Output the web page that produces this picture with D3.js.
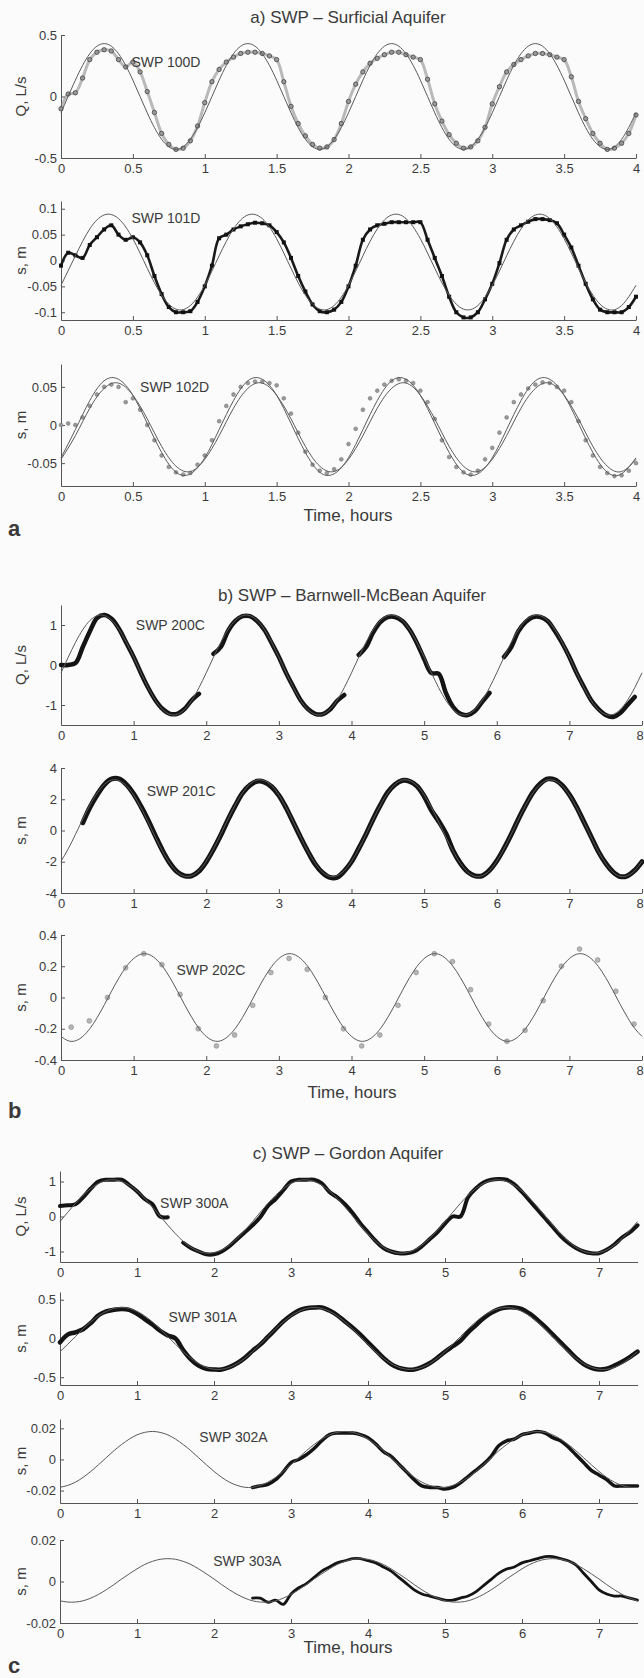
<!DOCTYPE html>
<html>
<head>
<meta charset="utf-8">
<script src="https://cdn.jsdelivr.net/npm/d3@7"></script>
<style>
  body { margin: 0; background: #fbfbfb; }
  svg { display: block; }
  text { font-family: "Liberation Sans", Arial, sans-serif; fill: #3a3a3a; }
</style>
</head>
<body>
<div id="chart"></div>
<script>
// values
// model curves: one value every 0.1 h starting at t = 0
var a1Model = [-0.133, 0.133, 0.348, 0.43, 0.348, 0.133, -0.133, -0.348, -0.43, -0.348,
  -0.133, 0.133, 0.348, 0.43, 0.348, 0.133, -0.133, -0.348, -0.43, -0.348,
  -0.133, 0.133, 0.348, 0.43, 0.348, 0.133, -0.133, -0.348, -0.43, -0.348,
  -0.133, 0.133, 0.348, 0.43, 0.348, 0.133, -0.133, -0.348, -0.43, -0.348, -0.133];
var a2Model = [-0.048, 0.009, 0.061, 0.088, 0.081, 0.042, -0.015, -0.067, -0.094, -0.087,
  -0.048, 0.009, 0.061, 0.088, 0.081, 0.042, -0.015, -0.067, -0.094, -0.087,
  -0.048, 0.009, 0.061, 0.088, 0.081, 0.042, -0.015, -0.067, -0.094, -0.087,
  -0.048, 0.009, 0.061, 0.088, 0.081, 0.042, -0.015, -0.067, -0.094, -0.087, -0.048];
var a3ModelA = [-0.043, -0.006, 0.032, 0.058, 0.060, 0.039, 0.002, -0.036, -0.062, -0.064,
  -0.043, -0.006, 0.032, 0.058, 0.060, 0.039, 0.002, -0.036, -0.062, -0.064,
  -0.043, -0.006, 0.032, 0.058, 0.060, 0.039, 0.002, -0.036, -0.062, -0.064,
  -0.043, -0.006, 0.032, 0.058, 0.060, 0.039, 0.002, -0.036, -0.062, -0.064, -0.043];
var a3ModelB = [-0.045, -0.014, 0.022, 0.048, 0.055, 0.039, 0.008, -0.028, -0.054, -0.061,
  -0.045, -0.014, 0.022, 0.048, 0.055, 0.039, 0.008, -0.028, -0.054, -0.061,
  -0.045, -0.014, 0.022, 0.048, 0.055, 0.039, 0.008, -0.028, -0.054, -0.061,
  -0.045, -0.014, 0.022, 0.048, 0.055, 0.039, 0.008, -0.028, -0.054, -0.061, -0.045];

var b1Model = [-0.196, 0.196, 0.567, 0.884, 1.114, 1.235, 1.235, 1.114, 0.884, 0.567,
  0.196, -0.196, -0.567, -0.884, -1.114, -1.235, -1.235, -1.114, -0.884, -0.567,
  -0.196, 0.196, 0.567, 0.884, 1.114, 1.235, 1.235, 1.114, 0.884, 0.567,
  0.196, -0.196, -0.567, -0.884, -1.114, -1.235, -1.235, -1.114, -0.884, -0.567,
  -0.196, 0.196, 0.567, 0.884, 1.114, 1.235, 1.235, 1.114, 0.884, 0.567,
  0.196, -0.196, -0.567, -0.884, -1.114, -1.235, -1.235, -1.114, -0.884, -0.567,
  -0.196, 0.196, 0.567, 0.884, 1.114, 1.235, 1.235, 1.114, 0.884, 0.567,
  0.196, -0.196, -0.567, -0.884, -1.114, -1.235, -1.235, -1.114, -0.884, -0.567, -0.196];
var b2Model = [-1.97, -1.17, -0.24, 0.73, 1.64, 2.41, 2.96, 3.23, 3.19, 2.87,
  2.27, 1.47, 0.54, -0.43, -1.34, -2.11, -2.66, -2.93, -2.89, -2.57,
  -1.97, -1.17, -0.24, 0.73, 1.64, 2.41, 2.96, 3.23, 3.19, 2.87,
  2.27, 1.47, 0.54, -0.43, -1.34, -2.11, -2.66, -2.93, -2.89, -2.57,
  -1.97, -1.17, -0.24, 0.73, 1.64, 2.41, 2.96, 3.23, 3.19, 2.87,
  2.27, 1.47, 0.54, -0.43, -1.34, -2.11, -2.66, -2.93, -2.89, -2.57,
  -1.97, -1.17, -0.24, 0.73, 1.64, 2.41, 2.96, 3.23, 3.19, 2.87,
  2.27, 1.47, 0.54, -0.43, -1.34, -2.11, -2.66, -2.93, -2.89, -2.57, -1.97];
var b3Model = [-0.249, -0.277, -0.277, -0.249, -0.198, -0.127, -0.044, 0.044, 0.127, 0.198,
  0.249, 0.277, 0.277, 0.249, 0.198, 0.127, 0.044, -0.044, -0.127, -0.198,
  -0.249, -0.277, -0.277, -0.249, -0.198, -0.127, -0.044, 0.044, 0.127, 0.198,
  0.249, 0.277, 0.277, 0.249, 0.198, 0.127, 0.044, -0.044, -0.127, -0.198,
  -0.249, -0.277, -0.277, -0.249, -0.198, -0.127, -0.044, 0.044, 0.127, 0.198,
  0.249, 0.277, 0.277, 0.249, 0.198, 0.127, 0.044, -0.044, -0.127, -0.198,
  -0.249, -0.277, -0.277, -0.249, -0.198, -0.127, -0.044, 0.044, 0.127, 0.198,
  0.249, 0.277, 0.277, 0.249, 0.198, 0.127, 0.044, -0.044, -0.127, -0.198, -0.249];

var c1Model = [-0.145, 0.118, 0.374, 0.607, 0.800, 0.944, 1.029, 1.049, 1.003, 0.894,
  0.729, 0.518, 0.274, 0.013, -0.248, -0.494, -0.709, -0.880, -0.994, -1.047,
  -1.033, -0.956, -0.817, -0.628, -0.399,
  -0.145, 0.118, 0.374, 0.607, 0.800, 0.944, 1.029, 1.049, 1.003, 0.894,
  0.729, 0.518, 0.274, 0.013, -0.248, -0.494, -0.709, -0.880, -0.994, -1.047,
  -1.033, -0.956, -0.817, -0.628, -0.399,
  -0.145, 0.118, 0.374, 0.607, 0.800, 0.944, 1.029, 1.049, 1.003, 0.894,
  0.729, 0.518, 0.274, 0.013, -0.248, -0.494, -0.709, -0.880, -0.994, -1.047,
  -1.033, -0.956, -0.817, -0.628, -0.399, -0.145];
var c2Model = [-0.170, -0.075, 0.025, 0.124, 0.214, 0.292, 0.350, 0.388, 0.400, 0.388,
  0.350, 0.292, 0.214, 0.124, 0.025, -0.075, -0.170, -0.255, -0.324, -0.372,
  -0.397, -0.397, -0.372, -0.324, -0.255,
  -0.170, -0.075, 0.025, 0.124, 0.214, 0.292, 0.350, 0.388, 0.400, 0.388,
  0.350, 0.292, 0.214, 0.124, 0.025, -0.075, -0.170, -0.255, -0.324, -0.372,
  -0.397, -0.397, -0.372, -0.324, -0.255,
  -0.170, -0.075, 0.025, 0.124, 0.214, 0.292, 0.350, 0.388, 0.400, 0.388,
  0.350, 0.292, 0.214, 0.124, 0.025, -0.075, -0.170, -0.255, -0.324, -0.372,
  -0.397, -0.397, -0.372, -0.324, -0.255, -0.170];
var c3Model = [-0.0179, -0.0167, -0.0146, -0.0115, -0.0077, -0.0034, 0.0011, 0.0056, 0.0096, 0.0131,
  0.0158, 0.0174, 0.018, 0.0174, 0.0158, 0.0131, 0.0096, 0.0056, 0.0011, -0.0034,
  -0.0077, -0.0115, -0.0146, -0.0167, -0.0179,
  -0.0179, -0.0167, -0.0146, -0.0115, -0.0077, -0.0034, 0.0011, 0.0056, 0.0096, 0.0131,
  0.0158, 0.0174, 0.018, 0.0174, 0.0158, 0.0131, 0.0096, 0.0056, 0.0011, -0.0034,
  -0.0077, -0.0115, -0.0146, -0.0167, -0.0179,
  -0.0179, -0.0167, -0.0146, -0.0115, -0.0077, -0.0034, 0.0011, 0.0056, 0.0096, 0.0131,
  0.0158, 0.0174, 0.018, 0.0174, 0.0158, 0.0131, 0.0096, 0.0056, 0.0011, -0.0034,
  -0.0077, -0.0115, -0.0146, -0.0167, -0.0179, -0.0179];
var c4Model = [-0.0093, -0.0099, -0.0099, -0.0093, -0.0080, -0.0062, -0.0040, -0.0015, 0.0012, 0.0037,
  0.0061, 0.0082, 0.0097, 0.0107, 0.0110, 0.0107, 0.0097, 0.0082, 0.0061, 0.0037,
  0.0012, -0.0015, -0.0040, -0.0062, -0.0080,
  -0.0093, -0.0099, -0.0099, -0.0093, -0.0080, -0.0062, -0.0040, -0.0015, 0.0012, 0.0037,
  0.0061, 0.0082, 0.0097, 0.0107, 0.0110, 0.0107, 0.0097, 0.0082, 0.0061, 0.0037,
  0.0012, -0.0015, -0.0040, -0.0062, -0.0080,
  -0.0093, -0.0099, -0.0099, -0.0093, -0.0080, -0.0062, -0.0040, -0.0015, 0.0012, 0.0037,
  0.0061, 0.0082, 0.0097, 0.0107, 0.0110, 0.0107, 0.0097, 0.0082, 0.0061, 0.0037,
  0.0012, -0.0015, -0.0040, -0.0062, -0.0080, -0.0093];

// measured data, panel a every 0.05 h
var a1Obs = [-0.1, 0.02, 0.03, 0.15, 0.3, 0.36, 0.38, 0.37, 0.3, 0.24, 0.28, 0.2, 0.04, -0.13, -0.3, -0.39, -0.43, -0.42, -0.36, -0.24,
  -0.05, 0.12, 0.22, 0.28, 0.32, 0.35, 0.36, 0.36, 0.35, 0.33, 0.3, 0.12, -0.08, -0.22, -0.32, -0.39, -0.42, -0.41, -0.35, -0.22,
  -0.04, 0.1, 0.2, 0.27, 0.31, 0.34, 0.36, 0.36, 0.34, 0.32, 0.3, 0.14, -0.06, -0.2, -0.31, -0.38, -0.42, -0.41, -0.36, -0.25,
  -0.06, 0.08, 0.2, 0.26, 0.3, 0.33, 0.35, 0.35, 0.34, 0.32, 0.3, 0.16, -0.04, -0.18, -0.3, -0.38, -0.43, -0.42, -0.38, -0.3, -0.15];
var a2Obs = [-0.01, 0.015, 0.01, 0.005, 0.03, 0.045, 0.06, 0.068, 0.05, 0.04, 0.045, 0.035, 0.01, -0.03, -0.065, -0.09, -0.1, -0.1, -0.098, -0.08,
  -0.05, -0.01, 0.043, 0.05, 0.06, 0.066, 0.07, 0.073, 0.072, 0.068, 0.055, 0.035, 0.005, -0.03, -0.06, -0.085, -0.098, -0.1, -0.095, -0.08,
  -0.05, -0.01, 0.04, 0.06, 0.068, 0.071, 0.074, 0.074, 0.074, 0.074, 0.074, 0.04, 0.005, -0.03, -0.07, -0.1, -0.11, -0.11, -0.1, -0.075,
  -0.045, -0.005, 0.04, 0.06, 0.068, 0.075, 0.08, 0.08, 0.078, 0.072, 0.05, 0.025, -0.01, -0.045, -0.075, -0.095, -0.1, -0.1, -0.1, -0.09, -0.07];
var a3Obs = [0.0, 0.002, 0.0, 0.01, 0.025, 0.04, 0.05, 0.053, 0.05, 0.03, 0.035, 0.02, 0.0, -0.02, -0.04, -0.055, -0.062, -0.065, -0.063, -0.052,
  -0.04, -0.02, 0.005, 0.025, 0.04, 0.05, 0.055, 0.057, 0.057, 0.055, 0.052, 0.035, 0.015, -0.01, -0.035, -0.052, -0.06, -0.063, -0.058, -0.045,
  -0.025, -0.005, 0.02, 0.035, 0.045, 0.053, 0.058, 0.06, 0.058, 0.055, 0.045, 0.03, 0.008, -0.02, -0.042, -0.055, -0.062, -0.065, -0.06, -0.045,
  -0.03, -0.01, 0.01, 0.03, 0.04, 0.048, 0.053, 0.056, 0.055, 0.05, 0.045, 0.03, 0.005, -0.02, -0.04, -0.055, -0.063, -0.067, -0.066, -0.06, -0.05];

// panel b every 0.1 h (null = no record)
var b1Obs = [0.0, 0.0, 0.05, 0.45, 0.85, 1.18, 1.25, 1.15, 0.9, 0.55,
  0.2, -0.2, -0.57, -0.88, -1.1, -1.22, -1.22, -1.1, -0.88, -0.72,
  null, 0.28, 0.45, 0.85, 1.1, 1.22, 1.22, 1.1, 0.88, 0.55,
  0.2, -0.2, -0.55, -0.88, -1.1, -1.22, -1.23, -1.12, -0.9, -0.75,
  null, 0.25, 0.45, 0.82, 1.08, 1.2, 1.2, 1.1, 0.88, 0.55,
  0.15, -0.2, -0.22, -0.7, -1.05, -1.22, -1.25, -1.15, -0.92, -0.7,
  null, 0.2, 0.45, 0.85, 1.08, 1.2, 1.2, 1.1, 0.85, 0.55,
  0.2, -0.2, -0.55, -0.88, -1.1, -1.25, -1.3, -1.2, -1.0, -0.8, null];
var b2Obs = [null, null, null, 0.5, 1.5, 2.3, 2.95, 3.3, 3.3, 2.95,
  2.35, 1.55, 0.65, -0.35, -1.3, -2.1, -2.65, -2.9, -2.9, -2.6,
  -2.0, -1.2, -0.3, 0.7, 1.6, 2.4, 2.9, 3.15, 3.1, 2.8,
  2.25, 1.45, 0.5, -0.45, -1.35, -2.15, -2.7, -3.0, -3.0, -2.6,
  -2.0, -1.15, -0.25, 0.75, 1.65, 2.45, 2.95, 3.2, 3.15, 2.85,
  2.2, 1.3, 0.6, -0.2, -1.3, -2.1, -2.65, -2.9, -2.9, -2.55,
  -1.95, -1.15, -0.25, 0.75, 1.65, 2.45, 3.0, 3.3, 3.25, 2.9,
  2.3, 1.5, 0.55, -0.4, -1.35, -2.1, -2.65, -2.95, -2.9, -2.55, -2.0];
// panel b3: sparse readings every 0.25 h from t = 0.14
var b3Obs = [-0.19, -0.15, 0.0, 0.19, 0.28, 0.21, 0.02, -0.2, -0.31, -0.24, -0.05, 0.16, 0.25, 0.18, 0.0, -0.2,
  -0.31, -0.24, -0.05, 0.16, 0.28, 0.23, 0.05, -0.17, -0.28, -0.21, -0.02, 0.2, 0.31, 0.24, 0.04, -0.17];

// panel c every 0.1 h
var c1Obs = [0.3, 0.32, 0.35, 0.55, 0.8, 1.0, 1.05, 1.05, 1.05, 0.9,
  0.72, 0.5, 0.35, 0.0, -0.02, null, -0.75, -0.9, -1.0, -1.08,
  -1.08, -1.0, -0.85, -0.65, -0.45, -0.25, -0.02, 0.3, 0.5, 0.75,
  1.0, 1.05, 1.05, 1.05, 0.95, 0.7, 0.55, 0.35, 0.1, -0.2,
  -0.45, -0.7, -0.9, -1.0, -1.05, -1.05, -1.0, -0.85, -0.65, -0.45,
  -0.2, 0.0, 0.0, 0.55, 0.8, 0.97, 1.05, 1.07, 1.05, 0.92,
  0.7, 0.45, 0.2, -0.05, -0.3, -0.55, -0.75, -0.9, -1.0, -1.05,
  -1.05, -0.95, -0.8, -0.6, -0.45, -0.25];
var c2Obs = [-0.05, 0.05, 0.08, 0.12, 0.2, 0.3, 0.35, 0.37, 0.38, 0.37,
  0.32, 0.25, 0.18, 0.1, 0.04, 0.0, -0.15, -0.27, -0.35, -0.39,
  -0.4, -0.4, -0.37, -0.32, -0.25, -0.16, -0.08, 0.02, 0.12, 0.22,
  0.3, 0.36, 0.39, 0.4, 0.4, 0.36, 0.3, 0.22, 0.14, 0.05,
  -0.05, -0.15, -0.25, -0.33, -0.38, -0.4, -0.4, -0.37, -0.32, -0.25,
  -0.17, -0.1, -0.03, 0.08, 0.17, 0.26, 0.33, 0.38, 0.4, 0.4,
  0.38, 0.32, 0.24, 0.15, 0.05, -0.05, -0.15, -0.25, -0.33, -0.38,
  -0.4, -0.39, -0.35, -0.3, -0.24, -0.17];
// c3 and c4 records start at t = 2.5
var c3Obs = [-0.018, -0.017, -0.016, -0.013, -0.008, -0.002, 0.0, 0.003, 0.007, 0.012,
  0.016, 0.017, 0.017, 0.017, 0.016, 0.014, 0.01, 0.005, 0.002, -0.003,
  -0.008, -0.013, -0.017, -0.018, -0.018, -0.019, -0.018, -0.015, -0.011, -0.007,
  -0.003, 0.002, 0.009, 0.012, 0.013, 0.016, 0.017, 0.018, 0.017, 0.014,
  0.012, 0.008, 0.003, -0.002, -0.007, -0.01, -0.013, -0.017, -0.017, -0.017, -0.017];
var c4Obs = [-0.008, -0.008, -0.01, -0.009, -0.011, -0.006, -0.003, -0.001, 0.002, 0.005,
  0.007, 0.009, 0.010, 0.011, 0.011, 0.010, 0.009, 0.007, 0.005, 0.002,
  -0.001, -0.004, -0.006, -0.007, -0.008, -0.009, -0.009, -0.008, -0.007, -0.005,
  -0.002, 0.001, 0.004, 0.006, 0.007, 0.009, 0.010, 0.011, 0.012, 0.012,
  0.011, 0.010, 0.008, 0.004, 0.0, -0.004, -0.006, -0.007, -0.007, -0.008, -0.009];

// tick labels
var aXTicks = [0, 0.5, 1, 1.5, 2, 2.5, 3, 3.5, 4];
var bXTicks = [0, 1, 2, 3, 4, 5, 6, 7, 8];
var cXTicks = [0, 1, 2, 3, 4, 5, 6, 7];
var panelTitles = ['a) SWP \u2013 Surficial Aquifer', 'b) SWP \u2013 Barnwell-McBean Aquifer', 'c) SWP \u2013 Gordon Aquifer'];
var wellNames = ['SWP 100D', 'SWP 101D', 'SWP 102D', 'SWP 200C', 'SWP 201C', 'SWP 202C',
  'SWP 300A', 'SWP 301A', 'SWP 302A', 'SWP 303A'];

// ---- layout ----
var svgWidth = 644;
var svgHeight = 1678;
var modelStep = 0.1;

var svg = d3.select('#chart')
  .append('svg')
  .attr('width', svgWidth)
  .attr('height', svgHeight);

var groupA = { xMax: 4, left: 61, right: 636, xTicks: aXTicks };
var groupB = { xMax: 8, left: 61, right: 642, xTicks: bXTicks };
var groupC = { xMax: 7.5, left: 60, right: 637.5, xTicks: cXTicks };

var plots = [
  { grp: groupA, top: 35, bottom: 158, domain: [-0.5, 0.5], yTicks: [-0.5, 0, 0.5], ylabel: 'Q, L/s',
    name: wellNames[0], nameAt: [0.49, 0.28], models: [a1Model], obs: a1Obs, obsStart: 0, obsStep: 0.05, kind: 'scatter' },
  { grp: groupA, top: 201, bottom: 320, domain: [-0.115, 0.115], yTicks: [-0.1, -0.05, 0, 0.05, 0.1], ylabel: 's, m',
    name: wellNames[1], nameAt: [0.49, 0.081], models: [a2Model], obs: a2Obs, obsStart: 0, obsStep: 0.05, kind: 'dark' },
  { grp: groupA, top: 364, bottom: 486, domain: [-0.08, 0.08], yTicks: [-0.05, 0, 0.05], ylabel: 's, m',
    name: wellNames[2], nameAt: [0.55, 0.05], models: [a3ModelA, a3ModelB], obs: a3Obs, obsStart: 0, obsStep: 0.05, kind: 'dots' },
  { grp: groupB, top: 605, bottom: 725, domain: [-1.5, 1.5], yTicks: [-1, 0, 1], ylabel: 'Q, L/s',
    name: wellNames[3], nameAt: [1.03, 1.0], models: [b1Model], obs: b1Obs, obsStart: 0, obsStep: 0.1, kind: 'band', width: 4.5 },
  { grp: groupB, top: 768, bottom: 893, domain: [-4, 4], yTicks: [-4, -2, 0, 2, 4], ylabel: 's, m',
    name: wellNames[4], nameAt: [1.18, 2.5], models: [b2Model], obs: b2Obs, obsStart: 0, obsStep: 0.1, kind: 'band', width: 5 },
  { grp: groupB, top: 935, bottom: 1060, domain: [-0.4, 0.4], yTicks: [-0.4, -0.2, 0, 0.2, 0.4], ylabel: 's, m',
    name: wellNames[5], nameAt: [1.59, 0.174], models: [b3Model], obs: b3Obs, obsStart: 0.14, obsStep: 0.25, kind: 'sparse' },
  { grp: groupC, top: 1171, bottom: 1262, domain: [-1.3, 1.3], yTicks: [-1, 0, 1], ylabel: 'Q, L/s',
    name: wellNames[6], nameAt: [1.3, 0.38], models: [c1Model], obs: c1Obs, obsStart: 0, obsStep: 0.1, kind: 'band', width: 4 },
  { grp: groupC, top: 1292, bottom: 1385, domain: [-0.6, 0.6], yTicks: [-0.5, 0, 0.5], ylabel: 's, m',
    name: wellNames[7], nameAt: [1.41, 0.28], models: [c2Model], obs: c2Obs, obsStart: 0, obsStep: 0.1, kind: 'band', width: 4.5 },
  { grp: groupC, top: 1419, bottom: 1503, domain: [-0.028, 0.026], yTicks: [-0.02, 0, 0.02], ylabel: 's, m',
    name: wellNames[8], nameAt: [1.81, 0.0144], models: [c3Model], obs: c3Obs, obsStart: 2.5, obsStep: 0.1, kind: 'band', width: 3.5 },
  { grp: groupC, top: 1540, bottom: 1623, domain: [-0.02, 0.02], yTicks: [-0.02, 0, 0.02], ylabel: 's, m',
    name: wellNames[9], nameAt: [1.99, 0.0099], models: [c4Model], obs: c4Obs, obsStart: 2.5, obsStep: 0.1, kind: 'band', width: 2.8 }
];

var headings = [
  { text: panelTitles[0], y: 17, timeY: 515, letter: 'a', letterY: 528, x: 348 },
  { text: panelTitles[1], y: 595, timeY: 1092, letter: 'b', letterY: 1110, x: 352 },
  { text: panelTitles[2], y: 1153, timeY: 1647, letter: 'c', letterY: 1665, x: 348 }
];

function styleAxis(sel) {
  sel.selectAll('.domain').attr('stroke', '#555').attr('stroke-width', 1);
  sel.selectAll('.tick line').attr('stroke', '#555');
  sel.selectAll('.tick text')
    .style('font-size', '13px')
    .style('font-family', '"Liberation Sans", Arial, sans-serif')
    .attr('fill', '#444');
}

function drawPlot(p) {
  var x = d3.scaleLinear().domain([0, p.grp.xMax]).range([p.grp.left, p.grp.right]);
  var y = d3.scaleLinear().domain(p.domain).range([p.bottom, p.top]);
  var g = svg.append('g');

  // axes: MATLAB style, inward ticks, no box
  var xAxis = g.append('g')
    .attr('transform', `translate(0, ${p.bottom})`)
    .call(d3.axisBottom(x).tickValues(p.grp.xTicks).tickSizeInner(-4).tickSizeOuter(0)
      .tickPadding(6).tickFormat(d => String(d)));
  styleAxis(xAxis);
  // last label at the page edge: keep it inside
  xAxis.selectAll('.tick text')
    .filter(d => x(d) > svgWidth - 6)
    .attr('text-anchor', 'end')
    .attr('dx', '0.1em');

  var yAxis = g.append('g')
    .attr('transform', `translate(${p.grp.left}, 0)`)
    .call(d3.axisLeft(y).tickValues(p.yTicks).tickSizeInner(-4).tickSizeOuter(0)
      .tickPadding(4).tickFormat(d => String(d)));
  styleAxis(yAxis);

  // observed data
  var obsT = (d, i) => p.obsStart + i * p.obsStep;
  var obsLine = d3.line()
    .defined(d => d !== null)
    .x((d, i) => x(obsT(d, i)))
    .y(d => y(d))
    .curve(d3.curveCatmullRom);
  var pts = p.obs.map((d, i) => ({ t: obsT(d, i), v: d })).filter(d => d.v !== null);

  if (p.kind === 'scatter') {
    g.append('path').datum(p.obs).attr('d', obsLine)
      .attr('fill', 'none').attr('stroke', '#777').attr('stroke-width', 3).attr('opacity', 0.5);
    g.selectAll('circle.obs').data(pts).enter().append('circle')
      .attr('class', 'obs')
      .attr('cx', d => x(d.t)).attr('cy', d => y(d.v)).attr('r', 2.2)
      .attr('fill', '#999').attr('stroke', '#333').attr('stroke-width', 0.7);
  } else if (p.kind === 'dark') {
    g.append('path').datum(p.obs).attr('d', obsLine)
      .attr('fill', 'none').attr('stroke', '#1a1a1a').attr('stroke-width', 2.6);
    g.selectAll('rect.obs').data(pts).enter().append('rect')
      .attr('class', 'obs')
      .attr('x', d => x(d.t) - 2).attr('y', d => y(d.v) - 2).attr('width', 4).attr('height', 4)
      .attr('fill', '#111');
  } else if (p.kind === 'dots') {
    g.selectAll('circle.obs').data(pts).enter().append('circle')
      .attr('class', 'obs')
      .attr('cx', d => x(d.t)).attr('cy', d => y(d.v)).attr('r', 1.9)
      .attr('fill', '#9a9a9a').attr('stroke', '#777').attr('stroke-width', 0.6);
  } else if (p.kind === 'sparse') {
    g.selectAll('circle.obs').data(pts).enter().append('circle')
      .attr('class', 'obs')
      .attr('cx', d => x(d.t)).attr('cy', d => y(d.v)).attr('r', 2.4)
      .attr('fill', '#b5b5b5').attr('stroke', '#888').attr('stroke-width', 0.6);
  } else {
    g.append('path').datum(p.obs).attr('d', obsLine)
      .attr('fill', 'none').attr('stroke', '#141414')
      .attr('stroke-width', p.width).attr('stroke-linejoin', 'round').attr('stroke-linecap', 'round');
  }

  // fitted model curves
  var modelLine = d3.line()
    .x((d, i) => x(i * modelStep))
    .y(d => y(d))
    .curve(d3.curveNatural);
  p.models.forEach(function(m) {
    g.append('path').datum(m).attr('d', modelLine)
      .attr('fill', 'none').attr('stroke', '#5a5a5a').attr('stroke-width', 1);
  });

  // well name
  g.append('text')
    .attr('x', x(p.nameAt[0]))
    .attr('y', y(p.nameAt[1]))
    .attr('dy', '0.35em')
    .style('font-size', '14px')
    .text(p.name);

  // y label
  g.append('text')
    .attr('transform', `translate(21, ${(p.top + p.bottom) / 2}) rotate(-90)`)
    .attr('text-anchor', 'middle')
    .attr('dy', '0.35em')
    .style('font-size', '15px')
    .text(p.ylabel);
}

plots.forEach(drawPlot);

headings.forEach(function(h) {
  svg.append('text')
    .attr('x', h.x).attr('y', h.y).attr('dy', '0.35em')
    .attr('text-anchor', 'middle')
    .style('font-size', '17px')
    .text(h.text);
  svg.append('text')
    .attr('x', h.x).attr('y', h.timeY).attr('dy', '0.35em')
    .attr('text-anchor', 'middle')
    .style('font-size', '17px')
    .text('Time, hours');
  svg.append('text')
    .attr('x', 8).attr('y', h.letterY).attr('dy', '0.35em')
    .style('font-size', '22px')
    .style('font-weight', 'bold')
    .attr('fill', '#222')
    .text(h.letter);
});
</script>
</body>
</html>
